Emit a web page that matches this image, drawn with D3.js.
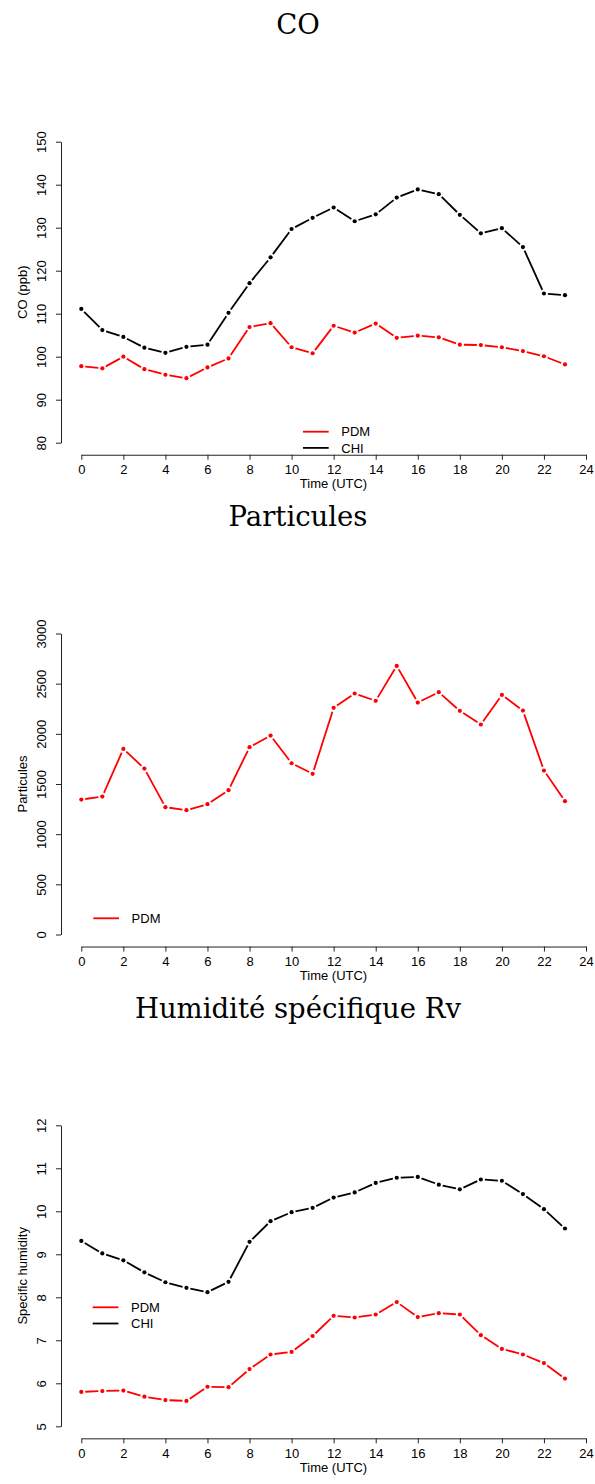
<!DOCTYPE html>
<html><head><meta charset="utf-8">
<script src="https://cdn.jsdelivr.net/npm/d3@7"></script>
<style>
body{margin:0;background:#fff;}
svg{display:block;}
text{font-family:"Liberation Sans",Arial,Helvetica,sans-serif;}
</style></head>
<body>
<script>
// ---------- data ----------
const hours = d3.range(0, 24);
const xTicks = d3.range(0, 25, 2);

const coTitle = "CO";
const coYLabel = "CO (ppb)";
const coTicks = [80, 90, 100, 110, 120, 130, 140, 150];
const coPDM = [97.8, 97.3, 100.0, 97.1, 95.8, 95.0, 97.5, 99.6, 106.9, 107.8, 102.2, 100.8,
               107.2, 105.6, 107.7, 104.4, 104.9, 104.5, 102.8, 102.7, 102.2, 101.3, 100.1, 98.2];
const coCHI = [111.1, 106.2, 104.6, 102.1, 100.9, 102.3, 102.8, 110.2, 117.1, 123.1, 129.7, 132.3,
               134.7, 131.5, 133.1, 137.0, 138.9, 137.8, 133.0, 128.7, 129.9, 125.5, 114.7, 114.3];

const partTitle = "Particules";
const partYLabel = "Particules";
const partTicks = [0, 500, 1000, 1500, 2000, 2500, 3000];
const partPDM = [1345, 1375, 1850, 1654, 1269, 1239, 1299, 1438, 1867, 1983, 1707, 1601,
                 2259, 2402, 2329, 2677, 2312, 2415, 2229, 2093, 2388, 2232, 1634, 1329];

const humTitle = "Humidité spécifique Rv";
const humYLabel = "Specific humidity";
const humTicks = [5, 6, 7, 8, 9, 10, 11, 12];
const humPDM = [5.80, 5.82, 5.83, 5.69, 5.61, 5.59, 5.92, 5.91, 6.33, 6.67, 6.73, 7.10,
                7.57, 7.53, 7.60, 7.89, 7.54, 7.63, 7.60, 7.12, 6.80, 6.67, 6.47, 6.11];
const humCHI = [9.31, 9.02, 8.86, 8.58, 8.35, 8.22, 8.12, 8.36, 9.29, 9.77, 9.98, 10.08,
                10.32, 10.44, 10.66, 10.78, 10.80, 10.62, 10.51, 10.74, 10.71, 10.40, 10.05, 9.60];

const xLabel = "Time (UTC)";
const seriesNames = ["PDM", "CHI"];
const seriesColors = ["#ff0000", "#000000"];

// ---------- layout ----------
const W = 595, H = 1484;
const svg = d3.select("body").append("svg").attr("width", W).attr("height", H);

const panels = [
  {title: coTitle, ylab: coYLabel, ticks: coTicks, series: [coPDM, coCHI], legend: {x: 303, y: 431.7, n: 2}},
  {title: partTitle, ylab: partYLabel, ticks: partTicks, series: [partPDM], legend: {x: 93.3, y: 918.3 - 491.8, n: 1}},
  {title: humTitle, ylab: humYLabel, ticks: humTicks, series: [humPDM, humCHI], legend: {x: 92.7, y: 1307.3 - 983.6, n: 2}}
];

const x = d3.scaleLinear().domain([0, 24]).range([81.3, 586]);
const gap = 4;
const fs = 13;

panels.forEach((p, i) => {
  const oy = i * 491.8;
  const g = svg.append("g").attr("transform", `translate(0,${oy})`);
  const ymin = p.ticks[0], ymax = p.ticks[p.ticks.length - 1];
  const y = d3.scaleLinear().domain([ymin, ymax]).range([442.7, 141.7]);
  const axisY = y(ymin - 0.04 * (ymax - ymin));
  const plotTop = y(ymax + 0.04 * (ymax - ymin));

  // title
  g.append("text").attr("x", 298).attr("y", 34.3)
    .attr("text-anchor", "middle")
    .style("font-family", "'DejaVu Serif','Liberation Serif',serif")
    .style("font-size", "27.5px").attr("fill", "#000").text(p.title);

  // x axis
  const xa = g.append("g").attr("transform", `translate(0,${axisY})`)
    .call(d3.axisBottom(x).tickValues(xTicks).tickSize(5).tickSizeOuter(0).tickPadding(5.4));
  xa.selectAll("text").style("font-size", fs + "px").attr("fill", "#000")
    .style("font-family", "'Liberation Sans',Arial,sans-serif");
  xa.selectAll("path,line").attr("stroke", "#222");

  // y axis
  const ya = g.append("g").attr("transform", `translate(61,0)`)
    .call(d3.axisLeft(y).tickValues(p.ticks).tickSize(5).tickSizeOuter(0).tickFormat(d3.format("d")));
  ya.selectAll("path,line").attr("stroke", "#222");
  ya.selectAll("text")
    .attr("transform", "rotate(-90)")
    .attr("x", 0).attr("y", -15.3).attr("dy", 0)
    .attr("text-anchor", "middle")
    .style("font-size", fs + "px").attr("fill", "#000")
    .style("font-family", "'Liberation Sans',Arial,sans-serif");

  // axis labels
  g.append("text").attr("x", 333.5).attr("y", axisY + 33.6)
    .attr("text-anchor", "middle").style("font-size", fs + "px").text(xLabel);
  g.append("text")
    .attr("transform", `translate(26.5,${(plotTop + axisY) / 2}) rotate(-90)`)
    .attr("text-anchor", "middle").style("font-size", fs + "px").text(p.ylab);

  // series (type "b": points + segments with gaps)
  p.series.forEach((vals, si) => {
    const col = seriesColors[si];
    const pts = vals.map((v, k) => [x(hours[k]), y(v)]);
    const segs = [];
    for (let k = 0; k < pts.length - 1; k++) {
      const [x1, y1] = pts[k], [x2, y2] = pts[k + 1];
      const dx = x2 - x1, dy = y2 - y1, L = Math.hypot(dx, dy);
      if (L > 2 * gap) {
        const ux = dx / L, uy = dy / L;
        segs.push([x1 + ux * gap, y1 + uy * gap, x2 - ux * gap, y2 - uy * gap]);
      }
    }
    g.append("g").selectAll("line").data(segs).join("line")
      .attr("x1", d => d[0]).attr("y1", d => d[1]).attr("x2", d => d[2]).attr("y2", d => d[3])
      .attr("stroke", col).attr("stroke-width", 1.8);
    g.append("g").selectAll("circle").data(pts).join("circle")
      .attr("cx", d => d[0]).attr("cy", d => d[1]).attr("r", 2.1).attr("fill", col);
  });

  // legend
  for (let s = 0; s < p.legend.n; s++) {
    const ly = p.legend.y + s * 16.2;
    g.append("line").attr("x1", p.legend.x).attr("x2", p.legend.x + 25.7)
      .attr("y1", ly).attr("y2", ly).attr("stroke", seriesColors[s]).attr("stroke-width", 1.8);
    g.append("text").attr("x", p.legend.x + 38.3).attr("y", ly).attr("dy", "0.36em")
      .style("font-size", fs + "px").attr("fill", "#000").text(seriesNames[s]);
  }
});
</script>
</body></html>
